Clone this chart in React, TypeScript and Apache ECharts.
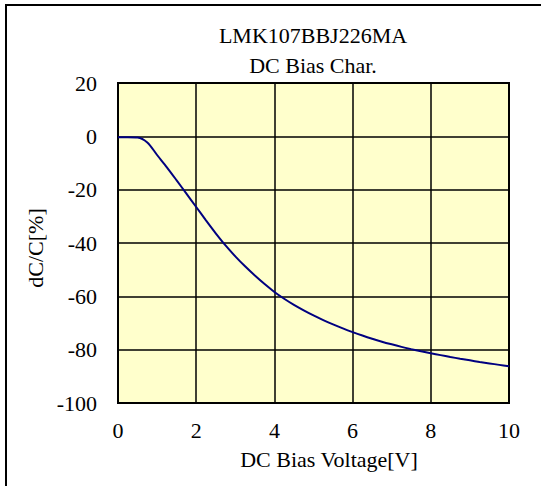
import React, { useEffect, useRef } from "react";
import * as echarts from "echarts";

const voltage = [
  0, 0.25, 0.5, 0.75, 1.0, 1.25, 1.5, 1.75, 2.0, 2.25, 2.5, 2.75, 3.0, 3.25, 3.5, 3.75, 4.0, 4.25, 4.5, 4.75, 5.0,
  5.25, 5.5, 5.75, 6.0, 6.25, 6.5, 6.75, 7.0, 7.25, 7.5, 7.75, 8.0, 8.25, 8.5, 8.75, 9.0, 9.25, 9.5, 9.75, 10.0,
];
const dcdc = [
  -0.3, -0.3, -0.4, -2.3, -7.0, -11.6, -16.5, -21.5, -26.5, -31.5, -36.35, -40.9, -45.0, -48.75, -52.2, -55.4,
  -58.35, -60.9, -63.2, -65.25, -67.15, -68.9, -70.5, -72.0, -73.4, -74.7, -75.9, -77.0, -78.0, -78.95, -79.8,
  -80.6, -81.35, -82.05, -82.75, -83.4, -84.0, -84.6, -85.15, -85.7, -86.25,
];
const titleLines = ["LMK107BBJ226MA", "DC Bias Char."];
const xName = "DC Bias Voltage[V]";
const yName = "dC/C[%]";

const FONT = "'Liberation Serif', 'Times New Roman', serif";
const FS = 22;

export default function App() {
  const ref = useRef<HTMLDivElement>(null);
  useEffect(() => {
    if (!ref.current) return;
    const chart = echarts.init(ref.current, null, { renderer: "svg" });
    const data = voltage.map((v, i) => [v, dcdc[i]]);
    chart.setOption({
      animation: false,
      backgroundColor: "#ffffff",
      grid: {
        left: 118,
        top: 83,
        right: 32,
        bottom: 83,
        show: true,
        backgroundColor: "#FFFFCC",
        borderColor: "#000000",
        borderWidth: 2,
      },
      xAxis: {
        type: "value",
        min: 0,
        max: 10,
        interval: 2,
        axisLine: { show: false },
        axisTick: { show: false },
        splitLine: { show: true, lineStyle: { color: "#000000", width: 1.5 } },
        axisLabel: { color: "#000000", fontFamily: FONT, fontSize: FS, margin: 16 },
      },
      yAxis: {
        type: "value",
        min: -100,
        max: 20,
        interval: 20,
        axisLine: { show: false },
        axisTick: { show: false },
        splitLine: { show: true, lineStyle: { color: "#000000", width: 1.5 } },
        axisLabel: { color: "#000000", fontFamily: FONT, fontSize: FS, margin: 21 },
      },
      series: [
        {
          type: "line",
          data,
          smooth: 0.3,
          showSymbol: false,
          lineStyle: { color: "#000080", width: 2 },
          itemStyle: { color: "#000080" },
          clip: false,
        },
      ],
      graphic: [
        {
          type: "rect",
          shape: { x: 6, y: 5, width: 560, height: 510 },
          style: { fill: "none", stroke: "#000000", lineWidth: 2 },
          silent: true,
        },
        {
          type: "text",
          x: 313,
          y: 35,
          style: { text: titleLines[0], fontFamily: FONT, fontSize: FS, fill: "#000", textAlign: "center", textVerticalAlign: "middle" },
        },
        {
          type: "text",
          x: 313,
          y: 65,
          style: { text: titleLines[1], fontFamily: FONT, fontSize: FS, fill: "#000", textAlign: "center", textVerticalAlign: "middle" },
        },
        {
          type: "text",
          x: 329,
          y: 459,
          style: { text: xName, fontFamily: FONT, fontSize: FS, fill: "#000", textAlign: "center", textVerticalAlign: "middle" },
        },
        {
          type: "text",
          x: 35,
          y: 248,
          rotation: Math.PI / 2,
          style: { text: yName, fontFamily: FONT, fontSize: FS, fill: "#000", textAlign: "center", textVerticalAlign: "middle" },
        },
      ],
    });
    return () => chart.dispose();
  }, []);
  return (
    <div
      ref={ref}
      style={{ position: "fixed", left: 0, top: 0, width: 541, height: 486 }}
    />
  );
}
